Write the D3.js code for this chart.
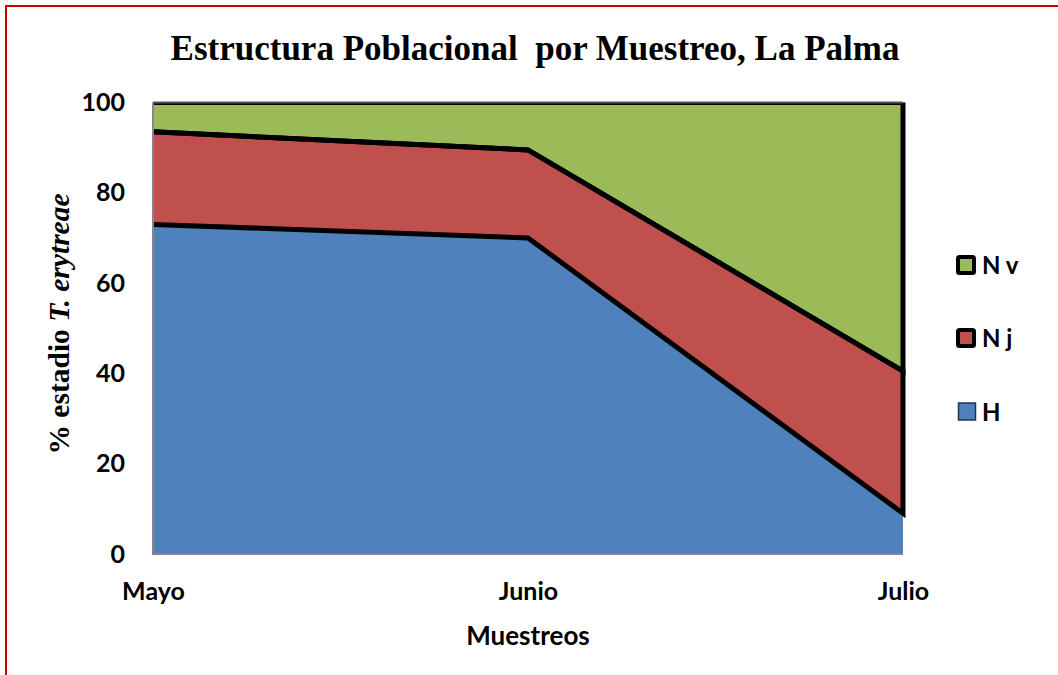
<!DOCTYPE html>
<html>
<head>
<meta charset="utf-8">
<script src="https://cdn.jsdelivr.net/npm/d3@7"></script>
<style>
  html, body { margin: 0; padding: 0; background: #fff; }
  svg { display: block; }
</style>
</head>
<body>
<svg id="chart" width="1058" height="675"></svg>
<script>
// Sampling months and stage percentages (stacked to 100)
const months = ["Mayo", "Junio", "Julio"];
const stageKeys = ["H", "Nj", "Nv"];
const stageLabels = ["H", "N j", "N v"];
const valuesH = [73, 70, 9];
const valuesNj = [20.5, 19.5, 31.5];
const valuesNv = [6.5, 10.5, 59.5];
const yTicks = [0, 20, 40, 60, 80, 100];
const stageColors = ["#4F81BD", "#C0504D", "#9BBB59"];

const rows = months.map((m, i) => ({ month: m, H: valuesH[i], Nj: valuesNj[i], Nv: valuesNv[i] }));

const svg = d3.select("#chart");
const W = 1058, H = 675;
const plot = { left: 153, right: 903, top: 102.5, bottom: 554 };

// Outer frame
svg.append("rect")
  .attr("x", 6).attr("y", 6).attr("width", W + 10).attr("height", H + 10)
  .attr("fill", "none").attr("stroke", "#D00000").attr("stroke-width", 2);

const x = d3.scalePoint().domain(months).range([plot.left, plot.right]);
const y = d3.scaleLinear().domain([0, 100]).range([plot.bottom, plot.top]);

const stacked = d3.stack().keys(stageKeys)(rows);

const area = d3.area()
  .x(d => x(d.data.month))
  .y0(d => y(d[0]))
  .y1(d => y(d[1]));

svg.append("defs").append("clipPath").attr("id", "plotClip")
  .append("rect")
  .attr("x", plot.left).attr("y", plot.top)
  .attr("width", plot.right - plot.left + 4).attr("height", plot.bottom - plot.top);

const g = svg.append("g").attr("clip-path", "url(#plotClip)");

g.selectAll("path.area")
  .data(stacked)
  .join("path")
  .attr("class", "area")
  .attr("d", area)
  .attr("fill", (d, i) => stageColors[i]);

// Black outlines for the two upper series (top, right edge and bottom, no left edge)
function outline(series) {
  const top = series.map(d => [x(d.data.month), y(d[1])]);
  const bottom = series.map(d => [x(d.data.month), y(d[0])]).reverse();
  return d3.line()(top.concat(bottom));
}
g.selectAll("path.edge")
  .data(stacked.slice(1))
  .join("path")
  .attr("class", "edge")
  .attr("d", d => outline(d))
  .attr("fill", "none")
  .attr("stroke", "#000")
  .attr("stroke-width", 5)
  .attr("stroke-linejoin", "miter");

// Axis lines
svg.append("line")
  .attr("x1", plot.left).attr("x2", plot.left)
  .attr("y1", plot.top).attr("y2", plot.bottom)
  .attr("stroke", "#868686").attr("stroke-width", 2);
svg.append("line")
  .attr("x1", plot.left - 1).attr("x2", plot.right)
  .attr("y1", plot.bottom).attr("y2", plot.bottom)
  .attr("stroke", "#868686").attr("stroke-width", 2);
svg.append("line")
  .attr("x1", plot.left).attr("x2", plot.right)
  .attr("y1", plot.top).attr("y2", plot.top)
  .attr("stroke", "#555").attr("stroke-width", 2);

const tickFont = "Lato, 'Open Sans', sans-serif";

const yAxis = svg.append("g")
  .attr("transform", `translate(${plot.left},0)`)
  .call(d3.axisLeft(y).tickValues(yTicks).tickSize(0).tickPadding(28));
yAxis.select(".domain").remove();
yAxis.selectAll("text")
  .attr("font-family", tickFont).attr("font-weight", "bold")
  .attr("font-size", 25).attr("fill", "#000");

const xAxis = svg.append("g")
  .attr("transform", `translate(0,${plot.bottom})`)
  .call(d3.axisBottom(x).tickSize(0).tickPadding(28));
xAxis.select(".domain").remove();
xAxis.selectAll("text")
  .attr("font-family", tickFont).attr("font-weight", "bold")
  .attr("font-size", 25).attr("fill", "#000");

// Title
svg.append("text")
  .attr("x", 535).attr("y", 60)
  .attr("text-anchor", "middle")
  .attr("font-family", "'Liberation Serif', 'Times New Roman', serif")
  .attr("font-weight", "bold").attr("font-size", 35)
  .attr("xml:space", "preserve")
  .text("Estructura Poblacional  por Muestreo, La Palma");

// Y axis title
const yTitle = svg.append("text")
  .attr("transform", "translate(69,324) rotate(-90)")
  .attr("text-anchor", "middle")
  .attr("font-family", "'Liberation Serif', 'Times New Roman', serif")
  .attr("font-weight", "bold").attr("font-size", 29.5);
yTitle.append("tspan").text("% estadio ");
yTitle.append("tspan").attr("font-style", "italic").text("T. erytreae");

// X axis title
svg.append("text")
  .attr("x", 528).attr("y", 645)
  .attr("text-anchor", "middle")
  .attr("font-family", tickFont).attr("font-weight", "bold")
  .attr("font-size", 26)
  .text("Muestreos");

// Legend (top to bottom: N v, N j, H)
const legendY = [265, 338, 411.5];
const legend = svg.append("g");
[2, 1, 0].forEach((si, row) => {
  const cy = legendY[row];
  const outlined = si > 0;
  legend.append("rect")
    .attr("x", outlined ? 958 : 958.5).attr("y", cy - (outlined ? 8 : 8.5))
    .attr("width", outlined ? 16 : 17).attr("height", outlined ? 16 : 17)
    .attr("fill", stageColors[si])
    .attr("stroke", outlined ? "#000" : "#1f3550")
    .attr("stroke-width", outlined ? 4 : 1.5)
    .attr("rx", outlined ? 1.5 : 0);
  legend.append("text")
    .attr("x", 982).attr("y", cy + 9)
    .attr("font-family", tickFont).attr("font-weight", "bold")
    .attr("font-size", 24)
    .text(stageLabels[si]);
});
</script>
</body>
</html>
